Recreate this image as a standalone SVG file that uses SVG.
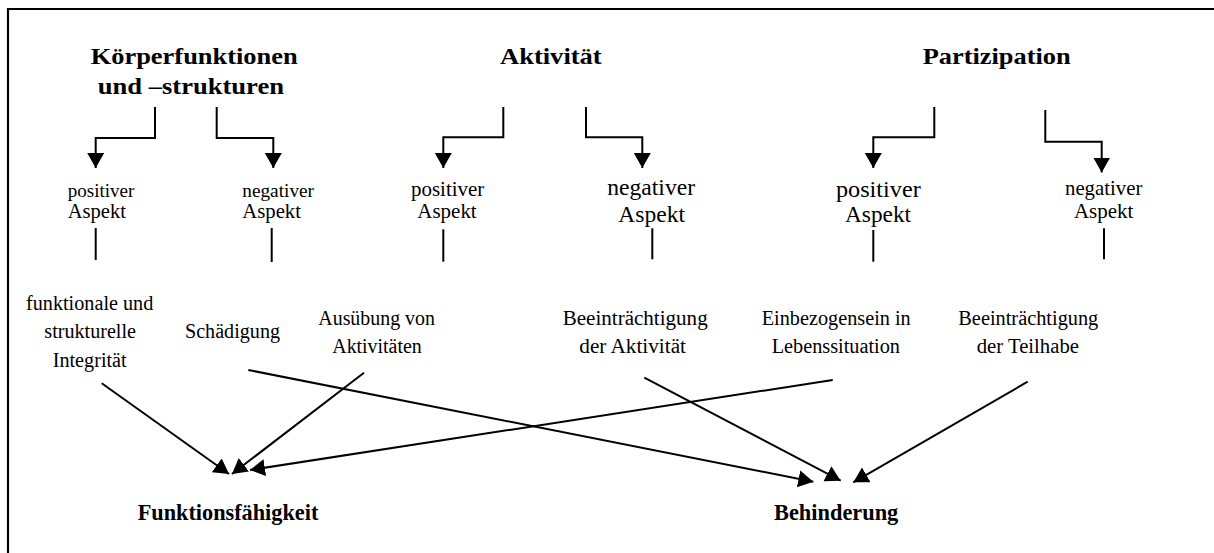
<svg xmlns="http://www.w3.org/2000/svg" width="1214" height="553" viewBox="0 0 1214 553">
  <style>
    .bg { fill: #ffffff; }
    .frame { stroke: #000; stroke-width: 2.2; fill: none; }
    .conn { stroke: #000; stroke-width: 2; fill: none; }
    .arrow { marker-end: url(#head); }
    .h { font-family: "Liberation Serif", "Times New Roman", serif; font-weight: bold; font-size: 24px; fill: #000; }
    .t { font-family: "Liberation Serif", "Times New Roman", serif; font-size: 20.5px; fill: #000; }
  </style>
  <defs>
    <marker id="head" markerUnits="userSpaceOnUse" markerWidth="18" markerHeight="20" refX="15" refY="8.5" orient="auto">
      <path d="M0,0 L15,8.5 L0,17 z" fill="#000"/>
    </marker>
  </defs>

  <rect class="bg" x="0" y="0" width="1214" height="553"/>

  <!-- open frame: top and left edges -->
  <path class="frame" d="M8,553 L8,9 L1214,9"/>

  <!-- domain headings -->
  <g id="koerper">
    <text class="h" x="90.7" y="64" textLength="207" lengthAdjust="spacingAndGlyphs">Körperfunktionen</text>
    <text class="h" x="97.7" y="94" textLength="186.3" lengthAdjust="spacingAndGlyphs">und –strukturen</text>
  </g>
  <g id="aktivitaet">
    <text class="h" x="500" y="64" textLength="101.7" lengthAdjust="spacingAndGlyphs">Aktivität</text>
  </g>
  <g id="partizipation">
    <text class="h" x="922.7" y="64" textLength="148" lengthAdjust="spacingAndGlyphs">Partizipation</text>
  </g>

  <!-- aspect labels -->
  <g id="k-pos">
    <text class="t" style="font-size:19.5px" x="67.7" y="196.5" textLength="66.7" lengthAdjust="spacingAndGlyphs">positiver</text>
    <text class="t" style="font-size:20px" x="67.7" y="218" textLength="58.3" lengthAdjust="spacingAndGlyphs">Aspekt</text>
  </g>
  <g id="k-neg">
    <text class="t" style="font-size:19.5px" x="242.3" y="196.5" textLength="71.7" lengthAdjust="spacingAndGlyphs">negativer</text>
    <text class="t" style="font-size:20px" x="242.3" y="218" textLength="58.7" lengthAdjust="spacingAndGlyphs">Aspekt</text>
  </g>
  <g id="a-pos">
    <text class="t" style="font-size:21px" x="411" y="196" textLength="73.3" lengthAdjust="spacingAndGlyphs">positiver</text>
    <text class="t" style="font-size:21px" x="417.3" y="218" textLength="59.4" lengthAdjust="spacingAndGlyphs">Aspekt</text>
  </g>
  <g id="a-neg">
    <text class="t" style="font-size:23.5px" x="607.3" y="195" textLength="87.7" lengthAdjust="spacingAndGlyphs">negativer</text>
    <text class="t" style="font-size:23.5px" x="618.3" y="221.7" textLength="66.7" lengthAdjust="spacingAndGlyphs">Aspekt</text>
  </g>
  <g id="p-pos">
    <text class="t" style="font-size:24px" x="836" y="196.7" textLength="84.7" lengthAdjust="spacingAndGlyphs">positiver</text>
    <text class="t" style="font-size:23.5px" x="845" y="221.7" textLength="66" lengthAdjust="spacingAndGlyphs">Aspekt</text>
  </g>
  <g id="p-neg">
    <text class="t" style="font-size:21px" x="1065" y="195" textLength="77.3" lengthAdjust="spacingAndGlyphs">negativer</text>
    <text class="t" style="font-size:21px" x="1074" y="218.3" textLength="59.3" lengthAdjust="spacingAndGlyphs">Aspekt</text>
  </g>

  <!-- concrete terms -->
  <g id="integritaet">
    <text class="t" x="26" y="310" textLength="127.3" lengthAdjust="spacingAndGlyphs">funktionale und</text>
    <text class="t" x="44.3" y="338.3" textLength="91.7" lengthAdjust="spacingAndGlyphs">strukturelle</text>
    <text class="t" x="52.7" y="366.7" textLength="74" lengthAdjust="spacingAndGlyphs">Integrität</text>
  </g>
  <g id="schaedigung">
    <text class="t" x="185" y="338.3" textLength="95" lengthAdjust="spacingAndGlyphs">Schädigung</text>
  </g>
  <g id="ausuebung">
    <text class="t" x="318.3" y="325" textLength="116.7" lengthAdjust="spacingAndGlyphs">Ausübung von</text>
    <text class="t" x="332.3" y="352.7" textLength="89.4" lengthAdjust="spacingAndGlyphs">Aktivitäten</text>
  </g>
  <g id="beeintr-aktivitaet">
    <text class="t" x="562.7" y="325" textLength="145" lengthAdjust="spacingAndGlyphs">Beeinträchtigung</text>
    <text class="t" x="579.3" y="352.7" textLength="106.7" lengthAdjust="spacingAndGlyphs">der Aktivität</text>
  </g>
  <g id="einbezogensein">
    <text class="t" x="761.7" y="325" textLength="149" lengthAdjust="spacingAndGlyphs">Einbezogensein in</text>
    <text class="t" x="771.7" y="353.3" textLength="128.3" lengthAdjust="spacingAndGlyphs">Lebenssituation</text>
  </g>
  <g id="beeintr-teilhabe">
    <text class="t" x="958.3" y="325" textLength="140" lengthAdjust="spacingAndGlyphs">Beeinträchtigung</text>
    <text class="t" x="976.7" y="353" textLength="102.3" lengthAdjust="spacingAndGlyphs">der Teilhabe</text>
  </g>

  <!-- outcomes -->
  <g id="funktionsfaehigkeit">
    <text class="h" x="137.7" y="520" textLength="180.6" lengthAdjust="spacingAndGlyphs">Funktionsfähigkeit</text>
  </g>
  <g id="behinderung">
    <text class="h" x="774" y="520" textLength="124.3" lengthAdjust="spacingAndGlyphs">Behinderung</text>
  </g>

  <g id="connectors">
    <!-- heading to aspect elbows -->
    <path class="conn arrow" d="M155,107 V138 H95.7 V168"/>
    <path class="conn arrow" d="M216.7,107 V138 H273.3 V168"/>
    <path class="conn arrow" d="M503.3,107 V137.3 H443.3 V168"/>
    <path class="conn arrow" d="M586,107 V137.3 H642.3 V168"/>
    <path class="conn arrow" d="M934.3,107 V137.3 H873.3 V168"/>
    <path class="conn arrow" d="M1045.3,110 V141.7 H1101.7 V172.5"/>

    <!-- aspect to term -->
    <path class="conn" d="M95.7,228 V260"/>
    <path class="conn" d="M271.7,228 V262"/>
    <path class="conn" d="M443.3,229.3 V261.7"/>
    <path class="conn" d="M652.3,228.3 V259.3"/>
    <path class="conn" d="M873.3,230 V261.7"/>
    <path class="conn" d="M1104,228.3 V259.3"/>

    <!-- terms to outcomes -->
    <path class="conn arrow" d="M101.7,383.3 L229,474"/>
    <path class="conn arrow" d="M364,372.7 L232,474"/>
    <path class="conn arrow" d="M832.7,380 L250,470"/>
    <path class="conn arrow" d="M248.3,370 L813.3,481.7"/>
    <path class="conn arrow" d="M644.3,377.7 L840.7,480.7"/>
    <path class="conn arrow" d="M1027.7,381.7 L853.3,482.3"/>
  </g>
</svg>
